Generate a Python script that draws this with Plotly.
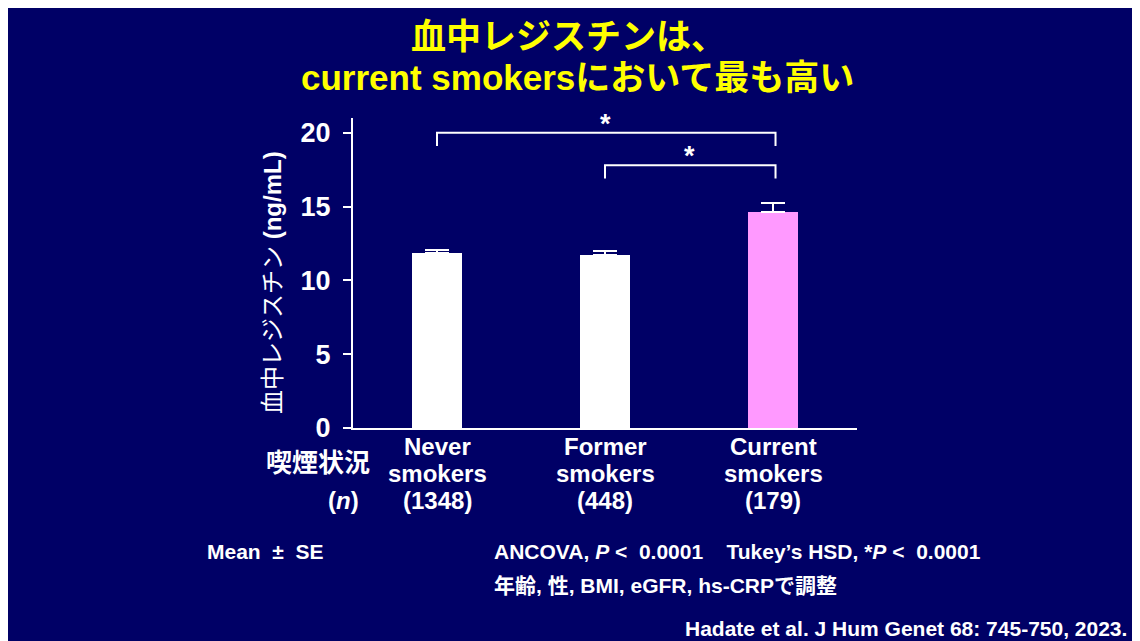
import plotly.graph_objects as go

# ---------------- data ----------------
groups = ["Never", "Former", "Current"]
group_sub = ["smokers", "smokers", "smokers"]
group_n = [1348, 448, 179]
mean_resistin = [11.86, 11.72, 14.64]
se_resistin = [0.22, 0.28, 0.59]
y_ticks = [0, 5, 10, 15, 20]
# significance comparisons: (group a, group b, label)
comparisons = [(0, 2, "*"), (1, 2, "*")]
bracket_levels = [20.0, 17.8]

# ---------------- styling ----------------
W, H = 1140, 641
OFF = 8  # page body margin in the screenshot
NAVY = "#000066"
PINK = "#FF99FF"
YELLOW = "#FFFF00"
FONT = "Liberation Sans, Arial, Noto Sans CJK JP, sans-serif"
bar_colors = ["white", "white", PINK]

L, R, T, B = 353, 857, 118, 428  # plot area bounds in screenshot pixels


def px(x):
    return (x - L) / (R - L)


def py(y):
    return (B - y) / (B - T)


fig = go.Figure()
fig.add_trace(go.Bar(
    x=list(range(len(groups))),
    y=mean_resistin,
    width=0.30,
    marker=dict(color=bar_colors, line=dict(width=0)),
    error_y=dict(type="data", array=se_resistin, arrayminus=[0] * len(groups),
                 symmetric=False, color="white", thickness=2, width=12),
    showlegend=False,
    hoverinfo="skip",
))

shapes = []
annotations = []

# significance brackets
leg = 0.9
for (a, b, lab), lvl in zip(comparisons, bracket_levels):
    shapes.append(dict(type="path", xref="x", yref="y",
                       path=f"M {a} {lvl - leg} L {a} {lvl} L {b + 0.015} {lvl} L {b + 0.015} {lvl - leg}",
                       line=dict(color="white", width=2)))
    annotations.append(dict(x=(a + b) / 2, y=lvl, xref="x", yref="y", text=f"<b>{lab}</b>",
                            showarrow=False, yanchor="bottom", yshift=-8,
                            font=dict(family=FONT, size=27, color="white")))

# category labels (three lines each)
line_y = [446, 473, 500]
for i, (g, s, n) in enumerate(zip(groups, group_sub, group_n)):
    for txt, yy in zip([g, s, f"({n})"], line_y):
        annotations.append(dict(x=i, y=py(yy), xref="x", yref="paper", text=f"<b>{txt}</b>",
                                showarrow=False, xanchor="center", yanchor="middle",
                                font=dict(family=FONT, size=24, color="white")))

# title
annotations.append(dict(x=px(568), y=py(36), xref="paper", yref="paper", text="<b>血中レジスチンは、</b>",
                        showarrow=False, xanchor="center", yanchor="middle",
                        font=dict(family=FONT, size=35, color=YELLOW)))
annotations.append(dict(x=px(577), y=py(78), xref="paper", yref="paper",
                        text="<b>current smokersにおいて最も高い</b>",
                        showarrow=False, xanchor="center", yanchor="middle",
                        font=dict(family=FONT, size=35, color=YELLOW)))

# y-axis title
annotations.append(dict(x=px(272), y=py(283), xref="paper", yref="paper",
                        text="血中レジスチン <b>(ng/mL)</b>", textangle=-90,
                        showarrow=False, xanchor="center", yanchor="middle",
                        font=dict(family=FONT, size=24, color="white")))

# row labels at left of categories
annotations.append(dict(x=px(372), y=py(463), xref="paper", yref="paper", text="<b>喫煙状況</b>",
                        showarrow=False, xanchor="right", yanchor="middle",
                        font=dict(family=FONT, size=26, color="white")))
annotations.append(dict(x=px(361), y=py(500), xref="paper", yref="paper", text="<b>(<i>n</i>)</b>",
                        showarrow=False, xanchor="right", yanchor="middle",
                        font=dict(family=FONT, size=24, color="white")))

# footnotes
NB = "\u00a0"
annotations.append(dict(x=px(205), y=py(551), xref="paper", yref="paper",
                        text=f"<b>Mean{NB}{NB}±{NB}{NB}SE</b>",
                        showarrow=False, xanchor="left", yanchor="middle",
                        font=dict(family=FONT, size=21, color="white")))
annotations.append(dict(x=px(492), y=py(551), xref="paper", yref="paper",
                        text=f"<b>ANCOVA,{NB}<i>P</i>{NB}<{NB}{NB}0.0001{NB}{NB}{NB}{NB}Tukey’s{NB}HSD,{NB}*<i>P</i>{NB}<{NB}{NB}0.0001</b>",
                        showarrow=False, xanchor="left", yanchor="middle",
                        font=dict(family=FONT, size=21, color="white")))
annotations.append(dict(x=px(492), y=py(585), xref="paper", yref="paper",
                        text="<b>年齢, 性, BMI, eGFR, hs-CRPで調整</b>",
                        showarrow=False, xanchor="left", yanchor="middle",
                        font=dict(family=FONT, size=21, color="white")))
annotations.append(dict(x=px(1129), y=py(628), xref="paper", yref="paper",
                        text="<b>Hadate et al. J Hum Genet 68: 745-750, 2023.</b>",
                        showarrow=False, xanchor="right", yanchor="middle",
                        font=dict(family=FONT, size=21, color="white")))

fig.update_layout(
    width=W, height=H,
    margin=dict(l=L - OFF, r=W - (R - OFF), t=T - OFF, b=H - (B - OFF), pad=0),
    paper_bgcolor=NAVY, plot_bgcolor=NAVY,
    shapes=shapes, annotations=annotations,
    bargap=0,
    xaxis=dict(range=[-0.5, 2.5], tickmode="array", tickvals=list(range(len(groups))),
               showticklabels=False, showline=True, linecolor="white", linewidth=2,
               ticks="", showgrid=False, zeroline=False, fixedrange=True),
    yaxis=dict(range=[0, 21], tickmode="array", tickvals=y_ticks,
               showline=True, linecolor="white", linewidth=2,
               ticks="outside", ticklen=8, tickwidth=2, tickcolor="white",
               showgrid=False, zeroline=False, fixedrange=True,
               tickfont=dict(family=FONT, size=27, color="white", weight="bold"),
               ticklabelstandoff=7),
)

fig.write_html("out.html")
